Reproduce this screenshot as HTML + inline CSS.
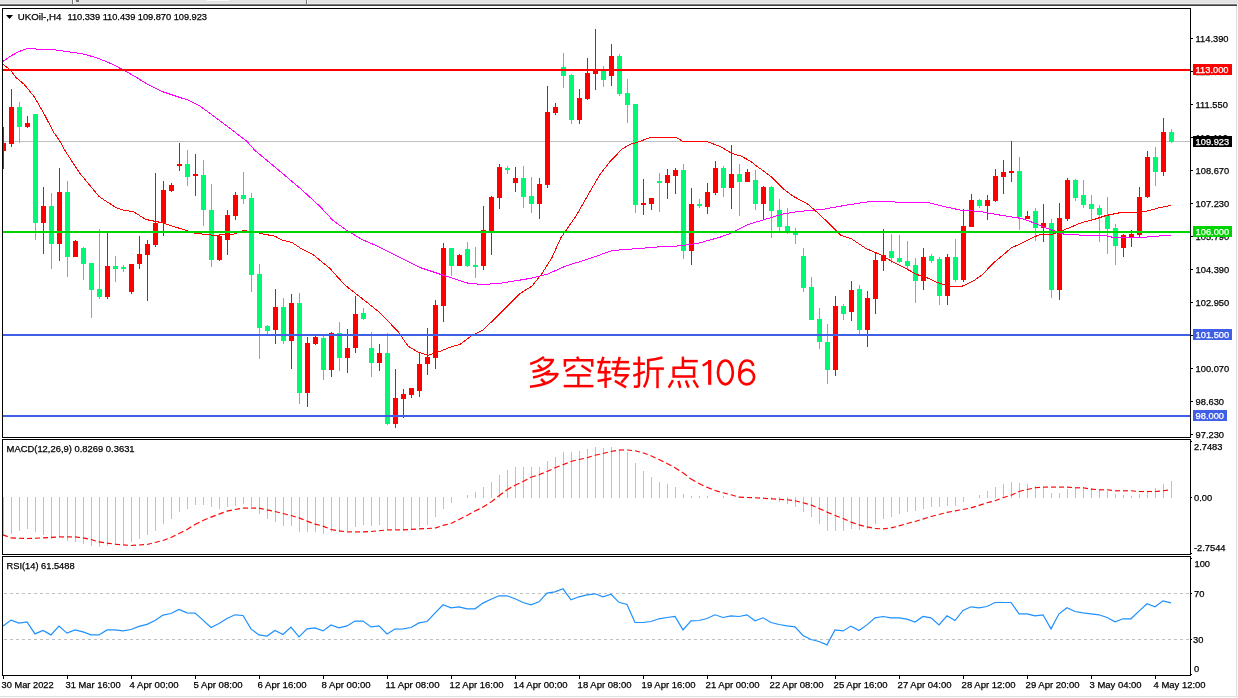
<!DOCTYPE html><html><head><meta charset="utf-8"><title>UKOil H4</title><style>
html,body{margin:0;padding:0;background:#fff}body{width:1238px;height:698px;overflow:hidden;position:relative}
svg{position:absolute;left:0;top:0;display:block}
text{font-family:"Liberation Sans",sans-serif;font-size:9.3px;fill:#000;stroke:#000;stroke-width:.25px}.w{stroke:#fff}
.w{fill:#fff}.cj path{fill:none;stroke:#ff0000;stroke-width:2.5;stroke-linejoin:round}.cj path.m{stroke-linejoin:miter}
</style></head><body>
<svg width="1238" height="698" viewBox="0 0 1238 698">
<rect width="1238" height="698" fill="#fff"/>
<g shape-rendering="crispEdges">
<rect x="0" y="0" width="1238" height="4" fill="#e4e4e4"/>
<rect x="0" y="3" width="1238" height="1" fill="#ececec"/><rect x="0" y="4" width="1237" height="1" fill="#7c7c7c"/>
<rect x="0" y="5" width="1237" height="1" fill="#404040"/>
<rect x="72" y="0" width="1" height="4" fill="#747474"/><rect x="73" y="0" width="1" height="4" fill="#f6f6f6"/>
<rect x="306" y="0" width="1" height="4" fill="#747474"/><rect x="307" y="0" width="1" height="4" fill="#f6f6f6"/>
<rect x="76" y="0" width="3" height="2" fill="#747474"/>
<rect x="207" y="0" width="22" height="1" fill="#fafafa"/>
<rect x="1236" y="6" width="1" height="692" fill="#dedede"/><rect x="1237" y="4" width="1" height="694" fill="#fbfbfb"/>
<rect x="0" y="696" width="1238" height="1" fill="#e2e2e2"/><rect x="0" y="697" width="1238" height="1" fill="#fbfbfb"/>
</g>
<g shape-rendering="crispEdges">
<rect x="3" y="141" width="1187" height="1" fill="#c0c0c0"/>
<rect x="3" y="127" width="1" height="42" fill="#ff0000"/>
<rect x="3" y="143" width="3" height="8" fill="#ff0000"/>
<rect x="11" y="89" width="1" height="58" fill="#ff0000"/>
<rect x="9" y="107" width="5" height="37" fill="#ff0000"/>
<rect x="19" y="102" width="1" height="41" fill="#00f876"/>
<rect x="17" y="107" width="5" height="20" fill="#00f876"/>
<rect x="27" y="116" width="1" height="12" fill="#ff0000"/>
<rect x="25" y="123" width="5" height="4" fill="#ff0000"/>
<rect x="35" y="114" width="1" height="126" fill="#00f876"/>
<rect x="33" y="114" width="5" height="109" fill="#00f876"/>
<rect x="43" y="187" width="1" height="67" fill="#ff0000"/>
<rect x="41" y="206" width="5" height="17" fill="#ff0000"/>
<rect x="51" y="193" width="1" height="76" fill="#00f876"/>
<rect x="49" y="206" width="5" height="38" fill="#00f876"/>
<rect x="59" y="168" width="1" height="93" fill="#ff0000"/>
<rect x="57" y="192" width="5" height="52" fill="#ff0000"/>
<rect x="67" y="181" width="1" height="96" fill="#00f876"/>
<rect x="65" y="192" width="5" height="65" fill="#00f876"/>
<rect x="75" y="240" width="1" height="17" fill="#ff0000"/>
<rect x="73" y="241" width="5" height="16" fill="#ff0000"/>
<rect x="83" y="247" width="1" height="33" fill="#00f876"/>
<rect x="81" y="248" width="5" height="16" fill="#00f876"/>
<rect x="91" y="263" width="1" height="55" fill="#00f876"/>
<rect x="89" y="263" width="5" height="27" fill="#00f876"/>
<rect x="99" y="229" width="1" height="70" fill="#00f876"/>
<rect x="97" y="289" width="5" height="8" fill="#00f876"/>
<rect x="107" y="233" width="1" height="66" fill="#ff0000"/>
<rect x="105" y="266" width="5" height="31" fill="#ff0000"/>
<rect x="115" y="256" width="1" height="26" fill="#00f876"/>
<rect x="113" y="266" width="5" height="3" fill="#00f876"/>
<rect x="123" y="265" width="1" height="7" fill="#00f876"/>
<rect x="121" y="267" width="5" height="2" fill="#00f876"/>
<rect x="131" y="264" width="1" height="30" fill="#ff0000"/>
<rect x="129" y="264" width="5" height="28" fill="#ff0000"/>
<rect x="139" y="236" width="1" height="33" fill="#ff0000"/>
<rect x="137" y="254" width="5" height="10" fill="#ff0000"/>
<rect x="147" y="240" width="1" height="61" fill="#ff0000"/>
<rect x="145" y="244" width="5" height="11" fill="#ff0000"/>
<rect x="155" y="173" width="1" height="74" fill="#ff0000"/>
<rect x="153" y="223" width="5" height="22" fill="#ff0000"/>
<rect x="163" y="181" width="1" height="55" fill="#ff0000"/>
<rect x="161" y="190" width="5" height="33" fill="#ff0000"/>
<rect x="171" y="183" width="1" height="9" fill="#ff0000"/>
<rect x="169" y="185" width="5" height="6" fill="#ff0000"/>
<rect x="179" y="143" width="1" height="28" fill="#ff0000"/>
<rect x="177" y="164" width="5" height="2" fill="#ff0000"/>
<rect x="187" y="150" width="1" height="36" fill="#00f876"/>
<rect x="185" y="164" width="5" height="13" fill="#00f876"/>
<rect x="195" y="154" width="1" height="42" fill="#ff0000"/>
<rect x="193" y="174" width="5" height="2" fill="#ff0000"/>
<rect x="203" y="160" width="1" height="66" fill="#00f876"/>
<rect x="201" y="175" width="5" height="35" fill="#00f876"/>
<rect x="211" y="184" width="1" height="83" fill="#00f876"/>
<rect x="209" y="210" width="5" height="50" fill="#00f876"/>
<rect x="219" y="235" width="1" height="26" fill="#ff0000"/>
<rect x="217" y="236" width="5" height="24" fill="#ff0000"/>
<rect x="227" y="210" width="1" height="45" fill="#ff0000"/>
<rect x="225" y="215" width="5" height="25" fill="#ff0000"/>
<rect x="235" y="192" width="1" height="28" fill="#ff0000"/>
<rect x="233" y="195" width="5" height="21" fill="#ff0000"/>
<rect x="243" y="172" width="1" height="32" fill="#00f876"/>
<rect x="241" y="195" width="5" height="4" fill="#00f876"/>
<rect x="251" y="193" width="1" height="99" fill="#00f876"/>
<rect x="249" y="198" width="5" height="77" fill="#00f876"/>
<rect x="259" y="264" width="1" height="95" fill="#00f876"/>
<rect x="257" y="274" width="5" height="54" fill="#00f876"/>
<rect x="267" y="325" width="1" height="9" fill="#00f876"/>
<rect x="265" y="326" width="5" height="5" fill="#00f876"/>
<rect x="275" y="289" width="1" height="55" fill="#ff0000"/>
<rect x="273" y="307" width="5" height="23" fill="#ff0000"/>
<rect x="283" y="298" width="1" height="46" fill="#00f876"/>
<rect x="281" y="307" width="5" height="34" fill="#00f876"/>
<rect x="291" y="294" width="1" height="75" fill="#ff0000"/>
<rect x="289" y="303" width="5" height="38" fill="#ff0000"/>
<rect x="299" y="293" width="1" height="111" fill="#00f876"/>
<rect x="297" y="303" width="5" height="90" fill="#00f876"/>
<rect x="307" y="337" width="1" height="70" fill="#ff0000"/>
<rect x="305" y="343" width="5" height="50" fill="#ff0000"/>
<rect x="315" y="335" width="1" height="10" fill="#ff0000"/>
<rect x="313" y="337" width="5" height="7" fill="#ff0000"/>
<rect x="323" y="336" width="1" height="44" fill="#00f876"/>
<rect x="321" y="338" width="5" height="32" fill="#00f876"/>
<rect x="331" y="332" width="1" height="45" fill="#ff0000"/>
<rect x="329" y="333" width="5" height="37" fill="#ff0000"/>
<rect x="339" y="322" width="1" height="49" fill="#00f876"/>
<rect x="337" y="333" width="5" height="25" fill="#00f876"/>
<rect x="347" y="329" width="1" height="44" fill="#ff0000"/>
<rect x="345" y="348" width="5" height="10" fill="#ff0000"/>
<rect x="355" y="296" width="1" height="57" fill="#ff0000"/>
<rect x="353" y="314" width="5" height="34" fill="#ff0000"/>
<rect x="363" y="308" width="1" height="12" fill="#00f876"/>
<rect x="361" y="313" width="5" height="6" fill="#00f876"/>
<rect x="371" y="332" width="1" height="45" fill="#00f876"/>
<rect x="369" y="348" width="5" height="15" fill="#00f876"/>
<rect x="379" y="344" width="1" height="27" fill="#ff0000"/>
<rect x="377" y="353" width="5" height="10" fill="#ff0000"/>
<rect x="387" y="333" width="1" height="92" fill="#00f876"/>
<rect x="385" y="353" width="5" height="71" fill="#00f876"/>
<rect x="395" y="369" width="1" height="59" fill="#ff0000"/>
<rect x="393" y="398" width="5" height="26" fill="#ff0000"/>
<rect x="403" y="389" width="1" height="29" fill="#ff0000"/>
<rect x="401" y="394" width="5" height="5" fill="#ff0000"/>
<rect x="411" y="388" width="1" height="10" fill="#ff0000"/>
<rect x="409" y="388" width="5" height="7" fill="#ff0000"/>
<rect x="419" y="353" width="1" height="44" fill="#ff0000"/>
<rect x="417" y="364" width="5" height="27" fill="#ff0000"/>
<rect x="427" y="328" width="1" height="47" fill="#ff0000"/>
<rect x="425" y="357" width="5" height="7" fill="#ff0000"/>
<rect x="435" y="300" width="1" height="69" fill="#ff0000"/>
<rect x="433" y="305" width="5" height="53" fill="#ff0000"/>
<rect x="443" y="243" width="1" height="79" fill="#ff0000"/>
<rect x="441" y="248" width="5" height="58" fill="#ff0000"/>
<rect x="451" y="248" width="1" height="28" fill="#00f876"/>
<rect x="449" y="248" width="5" height="18" fill="#00f876"/>
<rect x="459" y="254" width="1" height="12" fill="#ff0000"/>
<rect x="457" y="255" width="5" height="11" fill="#ff0000"/>
<rect x="467" y="242" width="1" height="25" fill="#00f876"/>
<rect x="465" y="249" width="5" height="17" fill="#00f876"/>
<rect x="475" y="247" width="1" height="31" fill="#00f876"/>
<rect x="473" y="265" width="5" height="2" fill="#00f876"/>
<rect x="483" y="206" width="1" height="64" fill="#ff0000"/>
<rect x="481" y="230" width="5" height="36" fill="#ff0000"/>
<rect x="491" y="196" width="1" height="59" fill="#ff0000"/>
<rect x="489" y="197" width="5" height="34" fill="#ff0000"/>
<rect x="499" y="164" width="1" height="45" fill="#ff0000"/>
<rect x="497" y="167" width="5" height="31" fill="#ff0000"/>
<rect x="507" y="166" width="1" height="8" fill="#00f876"/>
<rect x="505" y="168" width="5" height="2" fill="#00f876"/>
<rect x="515" y="167" width="1" height="25" fill="#ff0000"/>
<rect x="513" y="178" width="5" height="5" fill="#ff0000"/>
<rect x="523" y="166" width="1" height="42" fill="#00f876"/>
<rect x="521" y="178" width="5" height="19" fill="#00f876"/>
<rect x="531" y="177" width="1" height="36" fill="#00f876"/>
<rect x="529" y="196" width="5" height="8" fill="#00f876"/>
<rect x="539" y="178" width="1" height="41" fill="#ff0000"/>
<rect x="537" y="184" width="5" height="20" fill="#ff0000"/>
<rect x="547" y="86" width="1" height="102" fill="#ff0000"/>
<rect x="545" y="112" width="5" height="73" fill="#ff0000"/>
<rect x="555" y="103" width="1" height="12" fill="#ff0000"/>
<rect x="553" y="107" width="5" height="6" fill="#ff0000"/>
<rect x="563" y="53" width="1" height="35" fill="#00f876"/>
<rect x="561" y="67" width="5" height="9" fill="#00f876"/>
<rect x="571" y="74" width="1" height="50" fill="#00f876"/>
<rect x="569" y="75" width="5" height="45" fill="#00f876"/>
<rect x="579" y="89" width="1" height="35" fill="#ff0000"/>
<rect x="577" y="98" width="5" height="22" fill="#ff0000"/>
<rect x="587" y="58" width="1" height="42" fill="#ff0000"/>
<rect x="585" y="73" width="5" height="26" fill="#ff0000"/>
<rect x="595" y="29" width="1" height="61" fill="#ff0000"/>
<rect x="593" y="70" width="5" height="4" fill="#ff0000"/>
<rect x="603" y="66" width="1" height="21" fill="#00f876"/>
<rect x="601" y="70" width="5" height="10" fill="#00f876"/>
<rect x="611" y="44" width="1" height="42" fill="#ff0000"/>
<rect x="609" y="56" width="5" height="20" fill="#ff0000"/>
<rect x="619" y="54" width="1" height="42" fill="#00f876"/>
<rect x="617" y="56" width="5" height="38" fill="#00f876"/>
<rect x="627" y="79" width="1" height="44" fill="#00f876"/>
<rect x="625" y="93" width="5" height="12" fill="#00f876"/>
<rect x="635" y="104" width="1" height="109" fill="#00f876"/>
<rect x="633" y="104" width="5" height="101" fill="#00f876"/>
<rect x="643" y="179" width="1" height="36" fill="#ff0000"/>
<rect x="641" y="203" width="5" height="2" fill="#ff0000"/>
<rect x="651" y="198" width="1" height="12" fill="#ff0000"/>
<rect x="649" y="198" width="5" height="6" fill="#ff0000"/>
<rect x="659" y="173" width="1" height="39" fill="#00f876"/>
<rect x="657" y="181" width="5" height="2" fill="#00f876"/>
<rect x="667" y="169" width="1" height="30" fill="#ff0000"/>
<rect x="665" y="175" width="5" height="8" fill="#ff0000"/>
<rect x="675" y="168" width="1" height="26" fill="#ff0000"/>
<rect x="673" y="170" width="5" height="6" fill="#ff0000"/>
<rect x="683" y="164" width="1" height="95" fill="#00f876"/>
<rect x="681" y="170" width="5" height="81" fill="#00f876"/>
<rect x="691" y="188" width="1" height="77" fill="#ff0000"/>
<rect x="689" y="204" width="5" height="47" fill="#ff0000"/>
<rect x="699" y="199" width="1" height="9" fill="#00f876"/>
<rect x="697" y="204" width="5" height="2" fill="#00f876"/>
<rect x="707" y="183" width="1" height="31" fill="#ff0000"/>
<rect x="705" y="192" width="5" height="15" fill="#ff0000"/>
<rect x="715" y="161" width="1" height="34" fill="#ff0000"/>
<rect x="713" y="168" width="5" height="25" fill="#ff0000"/>
<rect x="723" y="166" width="1" height="31" fill="#00f876"/>
<rect x="721" y="168" width="5" height="20" fill="#00f876"/>
<rect x="731" y="145" width="1" height="64" fill="#ff0000"/>
<rect x="729" y="174" width="5" height="14" fill="#ff0000"/>
<rect x="739" y="164" width="1" height="52" fill="#00f876"/>
<rect x="737" y="174" width="5" height="8" fill="#00f876"/>
<rect x="747" y="169" width="1" height="13" fill="#ff0000"/>
<rect x="745" y="172" width="5" height="10" fill="#ff0000"/>
<rect x="755" y="170" width="1" height="40" fill="#00f876"/>
<rect x="753" y="180" width="5" height="24" fill="#00f876"/>
<rect x="763" y="186" width="1" height="34" fill="#ff0000"/>
<rect x="761" y="187" width="5" height="17" fill="#ff0000"/>
<rect x="771" y="186" width="1" height="52" fill="#00f876"/>
<rect x="769" y="187" width="5" height="24" fill="#00f876"/>
<rect x="779" y="199" width="1" height="32" fill="#00f876"/>
<rect x="777" y="210" width="5" height="17" fill="#00f876"/>
<rect x="787" y="208" width="1" height="26" fill="#00f876"/>
<rect x="785" y="226" width="5" height="5" fill="#00f876"/>
<rect x="795" y="228" width="1" height="16" fill="#00f876"/>
<rect x="793" y="233" width="5" height="2" fill="#00f876"/>
<rect x="803" y="248" width="1" height="44" fill="#00f876"/>
<rect x="801" y="256" width="5" height="32" fill="#00f876"/>
<rect x="811" y="277" width="1" height="43" fill="#00f876"/>
<rect x="809" y="287" width="5" height="33" fill="#00f876"/>
<rect x="819" y="308" width="1" height="41" fill="#00f876"/>
<rect x="817" y="319" width="5" height="23" fill="#00f876"/>
<rect x="827" y="324" width="1" height="60" fill="#00f876"/>
<rect x="825" y="342" width="5" height="28" fill="#00f876"/>
<rect x="835" y="296" width="1" height="80" fill="#ff0000"/>
<rect x="833" y="306" width="5" height="64" fill="#ff0000"/>
<rect x="843" y="304" width="1" height="16" fill="#00f876"/>
<rect x="841" y="306" width="5" height="8" fill="#00f876"/>
<rect x="851" y="281" width="1" height="40" fill="#ff0000"/>
<rect x="849" y="290" width="5" height="22" fill="#ff0000"/>
<rect x="859" y="285" width="1" height="49" fill="#00f876"/>
<rect x="857" y="289" width="5" height="41" fill="#00f876"/>
<rect x="867" y="291" width="1" height="56" fill="#ff0000"/>
<rect x="865" y="298" width="5" height="32" fill="#ff0000"/>
<rect x="875" y="253" width="1" height="61" fill="#ff0000"/>
<rect x="873" y="260" width="5" height="39" fill="#ff0000"/>
<rect x="883" y="229" width="1" height="42" fill="#ff0000"/>
<rect x="881" y="255" width="5" height="6" fill="#ff0000"/>
<rect x="891" y="234" width="1" height="29" fill="#00f876"/>
<rect x="889" y="251" width="5" height="7" fill="#00f876"/>
<rect x="899" y="235" width="1" height="28" fill="#00f876"/>
<rect x="897" y="258" width="5" height="4" fill="#00f876"/>
<rect x="907" y="241" width="1" height="29" fill="#00f876"/>
<rect x="905" y="261" width="5" height="5" fill="#00f876"/>
<rect x="915" y="258" width="1" height="45" fill="#00f876"/>
<rect x="913" y="265" width="5" height="16" fill="#00f876"/>
<rect x="923" y="248" width="1" height="42" fill="#ff0000"/>
<rect x="921" y="257" width="5" height="24" fill="#ff0000"/>
<rect x="931" y="254" width="1" height="9" fill="#00f876"/>
<rect x="929" y="256" width="5" height="5" fill="#00f876"/>
<rect x="939" y="257" width="1" height="48" fill="#00f876"/>
<rect x="937" y="259" width="5" height="37" fill="#00f876"/>
<rect x="947" y="254" width="1" height="51" fill="#ff0000"/>
<rect x="945" y="257" width="5" height="39" fill="#ff0000"/>
<rect x="955" y="239" width="1" height="43" fill="#00f876"/>
<rect x="953" y="257" width="5" height="23" fill="#00f876"/>
<rect x="963" y="209" width="1" height="73" fill="#ff0000"/>
<rect x="961" y="226" width="5" height="54" fill="#ff0000"/>
<rect x="971" y="194" width="1" height="33" fill="#ff0000"/>
<rect x="969" y="200" width="5" height="27" fill="#ff0000"/>
<rect x="979" y="199" width="1" height="9" fill="#00f876"/>
<rect x="977" y="200" width="5" height="6" fill="#00f876"/>
<rect x="987" y="195" width="1" height="25" fill="#ff0000"/>
<rect x="985" y="200" width="5" height="6" fill="#ff0000"/>
<rect x="995" y="169" width="1" height="33" fill="#ff0000"/>
<rect x="993" y="176" width="5" height="25" fill="#ff0000"/>
<rect x="1003" y="160" width="1" height="34" fill="#ff0000"/>
<rect x="1001" y="172" width="5" height="5" fill="#ff0000"/>
<rect x="1011" y="141" width="1" height="41" fill="#ff0000"/>
<rect x="1009" y="171" width="5" height="2" fill="#ff0000"/>
<rect x="1019" y="157" width="1" height="73" fill="#00f876"/>
<rect x="1017" y="171" width="5" height="46" fill="#00f876"/>
<rect x="1027" y="211" width="1" height="8" fill="#ff0000"/>
<rect x="1025" y="216" width="5" height="3" fill="#ff0000"/>
<rect x="1035" y="208" width="1" height="33" fill="#00f876"/>
<rect x="1033" y="211" width="5" height="17" fill="#00f876"/>
<rect x="1043" y="204" width="1" height="38" fill="#ff0000"/>
<rect x="1041" y="223" width="5" height="5" fill="#ff0000"/>
<rect x="1051" y="219" width="1" height="79" fill="#00f876"/>
<rect x="1049" y="223" width="5" height="67" fill="#00f876"/>
<rect x="1059" y="203" width="1" height="97" fill="#ff0000"/>
<rect x="1057" y="218" width="5" height="72" fill="#ff0000"/>
<rect x="1067" y="178" width="1" height="43" fill="#ff0000"/>
<rect x="1065" y="180" width="5" height="39" fill="#ff0000"/>
<rect x="1075" y="179" width="1" height="22" fill="#00f876"/>
<rect x="1073" y="180" width="5" height="18" fill="#00f876"/>
<rect x="1083" y="180" width="1" height="28" fill="#00f876"/>
<rect x="1081" y="195" width="5" height="10" fill="#00f876"/>
<rect x="1091" y="195" width="1" height="25" fill="#00f876"/>
<rect x="1089" y="204" width="5" height="5" fill="#00f876"/>
<rect x="1099" y="205" width="1" height="37" fill="#00f876"/>
<rect x="1097" y="208" width="5" height="7" fill="#00f876"/>
<rect x="1107" y="197" width="1" height="57" fill="#00f876"/>
<rect x="1105" y="215" width="5" height="14" fill="#00f876"/>
<rect x="1115" y="224" width="1" height="41" fill="#00f876"/>
<rect x="1113" y="228" width="5" height="18" fill="#00f876"/>
<rect x="1123" y="234" width="1" height="23" fill="#ff0000"/>
<rect x="1121" y="235" width="5" height="13" fill="#ff0000"/>
<rect x="1131" y="230" width="1" height="17" fill="#ff0000"/>
<rect x="1129" y="234" width="5" height="3" fill="#ff0000"/>
<rect x="1139" y="187" width="1" height="50" fill="#ff0000"/>
<rect x="1137" y="197" width="5" height="38" fill="#ff0000"/>
<rect x="1147" y="151" width="1" height="47" fill="#ff0000"/>
<rect x="1145" y="157" width="5" height="40" fill="#ff0000"/>
<rect x="1155" y="147" width="1" height="39" fill="#00f876"/>
<rect x="1153" y="157" width="5" height="15" fill="#00f876"/>
<rect x="1163" y="118" width="1" height="58" fill="#ff0000"/>
<rect x="1161" y="132" width="5" height="40" fill="#ff0000"/>
<rect x="1171" y="129" width="1" height="14" fill="#00f876"/>
<rect x="1169" y="132" width="5" height="10" fill="#00f876"/>
</g>
<polyline points="3,61.5 10,56.5 18,52.0 27,48.5 32,48.5 40,49.5 56,50.0 70,52.0 85,54.3 100,59.0 113,64.5 122,69.3 135,76.5 146,83.4 162,91.5 180,97.5 188,100.1 200,106.1 206,110.5 225,124.5 247,141.5 255,150.5 285,175.5 300,188.2 320,206.5 333,220.5 347,230.5 362,239.5 378,246.3 400,257.5 420,267.5 444,275.5 469,283.5 484,284.5 503,282.9 532,278.1 548,273.9 566,265.9 590,258.5 612,250.5 640,248.4 664,246.4 681,245.9 700,242.8 720,237.2 729,234.0 749,224.2 783,214.0 798,211.5 822,209.5 846,205.2 870,201.5 890,201.5 900,202.5 928,202.5 944,206.5 960,210.0 980,211.5 1000,215.1 1021,218.4 1033,222.5 1050,229.5 1065,234.5 1092,235.5 1106,235.9 1114,237.5 1131,237.5 1146,237.1 1160,235.9 1171,235.9" fill="none" stroke="#ff00ff" stroke-width="1" shape-rendering="crispEdges"/>
<polyline points="3,64.5 10,69.5 16,77.5 24,84.2 34,96.4 45,115.5 53,131.2 60,141.5 66,152.2 80,173.5 85,179.5 99,196.5 108,202.5 116,207.5 124,210.5 133,211.5 146,219.5 161,222.5 180,228.5 195,233.3 207,234.5 214,235.5 224,234.5 234,234.0 243,230.5 255,232.1 263,234.0 275,236.2 282,240.1 292,242.5 300,247.9 313,254.5 330,268.5 344,284.1 348,287.5 362,298.5 379,311.9 398,331.5 408,346.0 418,352.1 428,355.2 438,352.1 452,346.5 460,344.5 472,335.5 483,330.2 503,310.5 520,293.5 532,286.0 542,273.5 552,257.5 561,237.5 566,230.5 576,216.0 590,191.5 600,174.5 610,161.5 622,149.2 630,144.2 637,142.5 650,137.5 676,137.5 683,141.5 708,142.0 720,146.3 732,153.5 741,156.1 750,160.9 757,166.3 771,176.5 783,188.5 793,196.2 807,203.5 814,209.5 827,221.5 841,235.5 851,238.5 866,248.5 880,254.5 893,262.0 905,268.1 917,274.5 929,278.5 938,282.8 950,286.3 962,286.3 974,280.5 983,274.2 990,266.5 994,262.5 1004,254.2 1011,248.1 1021,243.5 1031,238.3 1040,234.5 1052,234.5 1065,229.5 1082,222.5 1094,219.5 1106,215.5 1121,212.5 1140,212.5 1150,210.3 1160,207.5 1167,206.2 1171,205.5" fill="none" stroke="#ff0000" stroke-width="1" shape-rendering="crispEdges"/>
<g shape-rendering="crispEdges">
<rect x="3" y="69" width="1187" height="2" fill="#ff0000"/>
<rect x="3" y="231" width="1187" height="2" fill="#00d400"/>
<rect x="3" y="334" width="1187" height="2" fill="#3f5fe6"/>
<rect x="3" y="415" width="1187" height="2" fill="#3f5fe6"/>
</g>
<g shape-rendering="crispEdges">
<rect x="3" y="497" width="1" height="38" fill="#c0c0c0"/>
<rect x="11" y="497" width="1" height="37" fill="#c0c0c0"/>
<rect x="19" y="497" width="1" height="34" fill="#c0c0c0"/>
<rect x="27" y="497" width="1" height="32" fill="#c0c0c0"/>
<rect x="35" y="497" width="1" height="35" fill="#c0c0c0"/>
<rect x="43" y="497" width="1" height="38" fill="#c0c0c0"/>
<rect x="51" y="497" width="1" height="42" fill="#c0c0c0"/>
<rect x="59" y="497" width="1" height="40" fill="#c0c0c0"/>
<rect x="67" y="497" width="1" height="44" fill="#c0c0c0"/>
<rect x="75" y="497" width="1" height="45" fill="#c0c0c0"/>
<rect x="83" y="497" width="1" height="47" fill="#c0c0c0"/>
<rect x="91" y="497" width="1" height="49" fill="#c0c0c0"/>
<rect x="99" y="497" width="1" height="50" fill="#c0c0c0"/>
<rect x="107" y="497" width="1" height="49" fill="#c0c0c0"/>
<rect x="115" y="497" width="1" height="48" fill="#c0c0c0"/>
<rect x="123" y="497" width="1" height="47" fill="#c0c0c0"/>
<rect x="131" y="497" width="1" height="45" fill="#c0c0c0"/>
<rect x="139" y="497" width="1" height="42" fill="#c0c0c0"/>
<rect x="147" y="497" width="1" height="38" fill="#c0c0c0"/>
<rect x="155" y="497" width="1" height="34" fill="#c0c0c0"/>
<rect x="163" y="497" width="1" height="27" fill="#c0c0c0"/>
<rect x="171" y="497" width="1" height="22" fill="#c0c0c0"/>
<rect x="179" y="497" width="1" height="15" fill="#c0c0c0"/>
<rect x="187" y="497" width="1" height="12" fill="#c0c0c0"/>
<rect x="195" y="497" width="1" height="8" fill="#c0c0c0"/>
<rect x="203" y="497" width="1" height="8" fill="#c0c0c0"/>
<rect x="211" y="497" width="1" height="10" fill="#c0c0c0"/>
<rect x="219" y="497" width="1" height="12" fill="#c0c0c0"/>
<rect x="227" y="497" width="1" height="10" fill="#c0c0c0"/>
<rect x="235" y="497" width="1" height="9" fill="#c0c0c0"/>
<rect x="243" y="497" width="1" height="7" fill="#c0c0c0"/>
<rect x="251" y="497" width="1" height="10" fill="#c0c0c0"/>
<rect x="259" y="497" width="1" height="17" fill="#c0c0c0"/>
<rect x="267" y="497" width="1" height="22" fill="#c0c0c0"/>
<rect x="275" y="497" width="1" height="25" fill="#c0c0c0"/>
<rect x="283" y="497" width="1" height="29" fill="#c0c0c0"/>
<rect x="291" y="497" width="1" height="29" fill="#c0c0c0"/>
<rect x="299" y="497" width="1" height="35" fill="#c0c0c0"/>
<rect x="307" y="497" width="1" height="35" fill="#c0c0c0"/>
<rect x="315" y="497" width="1" height="35" fill="#c0c0c0"/>
<rect x="323" y="497" width="1" height="37" fill="#c0c0c0"/>
<rect x="331" y="497" width="1" height="35" fill="#c0c0c0"/>
<rect x="339" y="497" width="1" height="35" fill="#c0c0c0"/>
<rect x="347" y="497" width="1" height="34" fill="#c0c0c0"/>
<rect x="355" y="497" width="1" height="30" fill="#c0c0c0"/>
<rect x="363" y="497" width="1" height="28" fill="#c0c0c0"/>
<rect x="371" y="497" width="1" height="29" fill="#c0c0c0"/>
<rect x="379" y="497" width="1" height="28" fill="#c0c0c0"/>
<rect x="387" y="497" width="1" height="32" fill="#c0c0c0"/>
<rect x="395" y="497" width="1" height="33" fill="#c0c0c0"/>
<rect x="403" y="497" width="1" height="34" fill="#c0c0c0"/>
<rect x="411" y="497" width="1" height="32" fill="#c0c0c0"/>
<rect x="419" y="497" width="1" height="30" fill="#c0c0c0"/>
<rect x="427" y="497" width="1" height="28" fill="#c0c0c0"/>
<rect x="435" y="497" width="1" height="20" fill="#c0c0c0"/>
<rect x="443" y="497" width="1" height="12" fill="#c0c0c0"/>
<rect x="451" y="497" width="1" height="6" fill="#c0c0c0"/>
<rect x="467" y="495" width="1" height="3" fill="#c0c0c0"/>
<rect x="475" y="492" width="1" height="6" fill="#c0c0c0"/>
<rect x="483" y="487" width="1" height="11" fill="#c0c0c0"/>
<rect x="491" y="482" width="1" height="16" fill="#c0c0c0"/>
<rect x="499" y="475" width="1" height="23" fill="#c0c0c0"/>
<rect x="507" y="470" width="1" height="28" fill="#c0c0c0"/>
<rect x="515" y="467" width="1" height="31" fill="#c0c0c0"/>
<rect x="523" y="467" width="1" height="31" fill="#c0c0c0"/>
<rect x="531" y="467" width="1" height="31" fill="#c0c0c0"/>
<rect x="539" y="467" width="1" height="31" fill="#c0c0c0"/>
<rect x="547" y="461" width="1" height="37" fill="#c0c0c0"/>
<rect x="555" y="457" width="1" height="41" fill="#c0c0c0"/>
<rect x="563" y="452" width="1" height="46" fill="#c0c0c0"/>
<rect x="571" y="452" width="1" height="46" fill="#c0c0c0"/>
<rect x="579" y="451" width="1" height="47" fill="#c0c0c0"/>
<rect x="587" y="449" width="1" height="49" fill="#c0c0c0"/>
<rect x="595" y="447" width="1" height="51" fill="#c0c0c0"/>
<rect x="603" y="448" width="1" height="50" fill="#c0c0c0"/>
<rect x="611" y="447" width="1" height="51" fill="#c0c0c0"/>
<rect x="619" y="450" width="1" height="48" fill="#c0c0c0"/>
<rect x="627" y="452" width="1" height="46" fill="#c0c0c0"/>
<rect x="635" y="463" width="1" height="35" fill="#c0c0c0"/>
<rect x="643" y="471" width="1" height="27" fill="#c0c0c0"/>
<rect x="651" y="477" width="1" height="21" fill="#c0c0c0"/>
<rect x="659" y="482" width="1" height="16" fill="#c0c0c0"/>
<rect x="667" y="484" width="1" height="14" fill="#c0c0c0"/>
<rect x="675" y="487" width="1" height="11" fill="#c0c0c0"/>
<rect x="683" y="494" width="1" height="4" fill="#c0c0c0"/>
<rect x="691" y="496" width="1" height="2" fill="#c0c0c0"/>
<rect x="699" y="496" width="1" height="2" fill="#c0c0c0"/>
<rect x="707" y="496" width="1" height="2" fill="#c0c0c0"/>
<rect x="723" y="496" width="1" height="2" fill="#c0c0c0"/>
<rect x="763" y="497" width="1" height="1" fill="#c0c0c0"/>
<rect x="771" y="497" width="1" height="3" fill="#c0c0c0"/>
<rect x="779" y="497" width="1" height="5" fill="#c0c0c0"/>
<rect x="787" y="497" width="1" height="7" fill="#c0c0c0"/>
<rect x="795" y="497" width="1" height="10" fill="#c0c0c0"/>
<rect x="803" y="497" width="1" height="15" fill="#c0c0c0"/>
<rect x="811" y="497" width="1" height="20" fill="#c0c0c0"/>
<rect x="819" y="497" width="1" height="27" fill="#c0c0c0"/>
<rect x="827" y="497" width="1" height="34" fill="#c0c0c0"/>
<rect x="835" y="497" width="1" height="34" fill="#c0c0c0"/>
<rect x="843" y="497" width="1" height="34" fill="#c0c0c0"/>
<rect x="851" y="497" width="1" height="32" fill="#c0c0c0"/>
<rect x="859" y="497" width="1" height="33" fill="#c0c0c0"/>
<rect x="867" y="497" width="1" height="32" fill="#c0c0c0"/>
<rect x="875" y="497" width="1" height="27" fill="#c0c0c0"/>
<rect x="883" y="497" width="1" height="22" fill="#c0c0c0"/>
<rect x="891" y="497" width="1" height="20" fill="#c0c0c0"/>
<rect x="899" y="497" width="1" height="17" fill="#c0c0c0"/>
<rect x="907" y="497" width="1" height="15" fill="#c0c0c0"/>
<rect x="915" y="497" width="1" height="14" fill="#c0c0c0"/>
<rect x="923" y="497" width="1" height="12" fill="#c0c0c0"/>
<rect x="931" y="497" width="1" height="10" fill="#c0c0c0"/>
<rect x="939" y="497" width="1" height="10" fill="#c0c0c0"/>
<rect x="947" y="497" width="1" height="9" fill="#c0c0c0"/>
<rect x="955" y="497" width="1" height="9" fill="#c0c0c0"/>
<rect x="963" y="497" width="1" height="5" fill="#c0c0c0"/>
<rect x="979" y="495" width="1" height="3" fill="#c0c0c0"/>
<rect x="987" y="491" width="1" height="7" fill="#c0c0c0"/>
<rect x="995" y="487" width="1" height="11" fill="#c0c0c0"/>
<rect x="1003" y="484" width="1" height="14" fill="#c0c0c0"/>
<rect x="1011" y="482" width="1" height="16" fill="#c0c0c0"/>
<rect x="1019" y="483" width="1" height="15" fill="#c0c0c0"/>
<rect x="1027" y="484" width="1" height="14" fill="#c0c0c0"/>
<rect x="1035" y="486" width="1" height="12" fill="#c0c0c0"/>
<rect x="1043" y="487" width="1" height="11" fill="#c0c0c0"/>
<rect x="1051" y="493" width="1" height="5" fill="#c0c0c0"/>
<rect x="1059" y="493" width="1" height="5" fill="#c0c0c0"/>
<rect x="1067" y="489" width="1" height="9" fill="#c0c0c0"/>
<rect x="1075" y="487" width="1" height="11" fill="#c0c0c0"/>
<rect x="1083" y="487" width="1" height="11" fill="#c0c0c0"/>
<rect x="1091" y="488" width="1" height="10" fill="#c0c0c0"/>
<rect x="1099" y="490" width="1" height="8" fill="#c0c0c0"/>
<rect x="1107" y="491" width="1" height="7" fill="#c0c0c0"/>
<rect x="1115" y="494" width="1" height="4" fill="#c0c0c0"/>
<rect x="1123" y="495" width="1" height="3" fill="#c0c0c0"/>
<rect x="1131" y="496" width="1" height="2" fill="#c0c0c0"/>
<rect x="1139" y="494" width="1" height="4" fill="#c0c0c0"/>
<rect x="1147" y="491" width="1" height="7" fill="#c0c0c0"/>
<rect x="1155" y="488" width="1" height="10" fill="#c0c0c0"/>
<rect x="1163" y="484" width="1" height="14" fill="#c0c0c0"/>
<rect x="1171" y="481" width="1" height="17" fill="#c0c0c0"/>
</g>
<g stroke="#ff0000" stroke-width="1.15" stroke-dasharray="5 3" fill="none">
<line x1="3" y1="534.9" x2="11" y2="537.9"/>
<line x1="11" y1="537.9" x2="19" y2="538.3"/>
<line x1="19" y1="538.3" x2="27" y2="538.5"/>
<line x1="27" y1="538.5" x2="35" y2="538.2"/>
<line x1="35" y1="538.2" x2="43" y2="537.9"/>
<line x1="43" y1="537.9" x2="51" y2="537.4"/>
<line x1="51" y1="537.4" x2="59" y2="536.9"/>
<line x1="59" y1="536.9" x2="67" y2="536.9"/>
<line x1="67" y1="536.9" x2="75" y2="536.9"/>
<line x1="75" y1="536.9" x2="83" y2="537.9"/>
<line x1="83" y1="537.9" x2="91" y2="539.5"/>
<line x1="91" y1="539.5" x2="99" y2="541.9"/>
<line x1="99" y1="541.9" x2="107" y2="543.1"/>
<line x1="107" y1="543.1" x2="115" y2="544.2"/>
<line x1="115" y1="544.2" x2="123" y2="544.9"/>
<line x1="123" y1="544.9" x2="131" y2="545.5"/>
<line x1="131" y1="545.5" x2="139" y2="545.0"/>
<line x1="139" y1="545.0" x2="147" y2="544.5"/>
<line x1="147" y1="544.5" x2="155" y2="542.5"/>
<line x1="155" y1="542.5" x2="163" y2="540.5"/>
<line x1="163" y1="540.5" x2="171" y2="537.5"/>
<line x1="171" y1="537.5" x2="179" y2="533.5"/>
<line x1="179" y1="533.5" x2="187" y2="529.5"/>
<line x1="187" y1="529.5" x2="195" y2="524.5"/>
<line x1="195" y1="524.5" x2="203" y2="520.5"/>
<line x1="203" y1="520.5" x2="211" y2="517.1"/>
<line x1="211" y1="517.1" x2="219" y2="514.1"/>
<line x1="219" y1="514.1" x2="227" y2="511.1"/>
<line x1="227" y1="511.1" x2="235" y2="509.5"/>
<line x1="235" y1="509.5" x2="243" y2="508.1"/>
<line x1="243" y1="508.1" x2="251" y2="508.1"/>
<line x1="251" y1="508.1" x2="259" y2="508.1"/>
<line x1="259" y1="508.1" x2="267" y2="509.9"/>
<line x1="267" y1="509.9" x2="275" y2="511.5"/>
<line x1="275" y1="511.5" x2="283" y2="513.5"/>
<line x1="283" y1="513.5" x2="291" y2="515.5"/>
<line x1="291" y1="515.5" x2="299" y2="517.9"/>
<line x1="299" y1="517.9" x2="307" y2="521.1"/>
<line x1="307" y1="521.1" x2="315" y2="524.1"/>
<line x1="315" y1="524.1" x2="323" y2="526.1"/>
<line x1="323" y1="526.1" x2="331" y2="529.5"/>
<line x1="331" y1="529.5" x2="339" y2="530.9"/>
<line x1="339" y1="530.9" x2="347" y2="531.9"/>
<line x1="347" y1="531.9" x2="355" y2="531.9"/>
<line x1="355" y1="531.9" x2="363" y2="531.9"/>
<line x1="363" y1="531.9" x2="371" y2="531.5"/>
<line x1="371" y1="531.5" x2="379" y2="530.7"/>
<line x1="379" y1="530.7" x2="387" y2="529.9"/>
<line x1="387" y1="529.9" x2="395" y2="529.9"/>
<line x1="395" y1="529.9" x2="403" y2="529.9"/>
<line x1="403" y1="529.9" x2="411" y2="529.4"/>
<line x1="411" y1="529.4" x2="419" y2="528.9"/>
<line x1="419" y1="528.9" x2="427" y2="528.5"/>
<line x1="427" y1="528.5" x2="435" y2="528.1"/>
<line x1="435" y1="528.1" x2="443" y2="525.4"/>
<line x1="443" y1="525.4" x2="451" y2="523.4"/>
<line x1="451" y1="523.4" x2="459" y2="519.5"/>
<line x1="459" y1="519.5" x2="467" y2="515.4"/>
<line x1="467" y1="515.4" x2="475" y2="511.1"/>
<line x1="475" y1="511.1" x2="483" y2="507.1"/>
<line x1="483" y1="507.1" x2="491" y2="502.1"/>
<line x1="491" y1="502.1" x2="499" y2="495.8"/>
<line x1="499" y1="495.8" x2="507" y2="489.8"/>
<line x1="507" y1="489.8" x2="515" y2="485.3"/>
<line x1="515" y1="485.3" x2="523" y2="481.5"/>
<line x1="523" y1="481.5" x2="531" y2="477.3"/>
<line x1="531" y1="477.3" x2="539" y2="474.8"/>
<line x1="539" y1="474.8" x2="547" y2="471.5"/>
<line x1="547" y1="471.5" x2="555" y2="467.8"/>
<line x1="555" y1="467.8" x2="563" y2="464.8"/>
<line x1="563" y1="464.8" x2="571" y2="461.5"/>
<line x1="571" y1="461.5" x2="579" y2="459.5"/>
<line x1="579" y1="459.5" x2="587" y2="457.8"/>
<line x1="587" y1="457.8" x2="595" y2="455.3"/>
<line x1="595" y1="455.3" x2="603" y2="453.5"/>
<line x1="603" y1="453.5" x2="611" y2="451.5"/>
<line x1="611" y1="451.5" x2="619" y2="450.0"/>
<line x1="619" y1="450.0" x2="627" y2="450.0"/>
<line x1="627" y1="450.0" x2="635" y2="450.8"/>
<line x1="635" y1="450.8" x2="643" y2="452.8"/>
<line x1="643" y1="452.8" x2="651" y2="455.8"/>
<line x1="651" y1="455.8" x2="659" y2="459.5"/>
<line x1="659" y1="459.5" x2="667" y2="463.5"/>
<line x1="667" y1="463.5" x2="675" y2="467.8"/>
<line x1="675" y1="467.8" x2="683" y2="472.8"/>
<line x1="683" y1="472.8" x2="691" y2="479.1"/>
<line x1="691" y1="479.1" x2="699" y2="483.5"/>
<line x1="699" y1="483.5" x2="707" y2="487.3"/>
<line x1="707" y1="487.3" x2="715" y2="490.5"/>
<line x1="715" y1="490.5" x2="723" y2="492.8"/>
<line x1="723" y1="492.8" x2="731" y2="494.8"/>
<line x1="731" y1="494.8" x2="739" y2="497.1"/>
<line x1="739" y1="497.1" x2="747" y2="497.5"/>
<line x1="747" y1="497.5" x2="755" y2="497.8"/>
<line x1="755" y1="497.8" x2="763" y2="498.3"/>
<line x1="763" y1="498.3" x2="771" y2="498.8"/>
<line x1="771" y1="498.8" x2="779" y2="499.3"/>
<line x1="779" y1="499.3" x2="787" y2="499.8"/>
<line x1="787" y1="499.8" x2="795" y2="500.8"/>
<line x1="795" y1="500.8" x2="803" y2="502.8"/>
<line x1="803" y1="502.8" x2="811" y2="504.9"/>
<line x1="811" y1="504.9" x2="819" y2="508.4"/>
<line x1="819" y1="508.4" x2="827" y2="512.1"/>
<line x1="827" y1="512.1" x2="835" y2="515.5"/>
<line x1="835" y1="515.5" x2="843" y2="518.5"/>
<line x1="843" y1="518.5" x2="851" y2="522.1"/>
<line x1="851" y1="522.1" x2="859" y2="524.9"/>
<line x1="859" y1="524.9" x2="867" y2="526.9"/>
<line x1="867" y1="526.9" x2="875" y2="528.5"/>
<line x1="875" y1="528.5" x2="883" y2="528.9"/>
<line x1="883" y1="528.9" x2="891" y2="527.9"/>
<line x1="891" y1="527.9" x2="899" y2="525.9"/>
<line x1="899" y1="525.9" x2="907" y2="523.5"/>
<line x1="907" y1="523.5" x2="915" y2="521.5"/>
<line x1="915" y1="521.5" x2="923" y2="519.1"/>
<line x1="923" y1="519.1" x2="931" y2="516.5"/>
<line x1="931" y1="516.5" x2="939" y2="514.5"/>
<line x1="939" y1="514.5" x2="947" y2="512.4"/>
<line x1="947" y1="512.4" x2="955" y2="510.9"/>
<line x1="955" y1="510.9" x2="963" y2="509.5"/>
<line x1="963" y1="509.5" x2="971" y2="507.9"/>
<line x1="971" y1="507.9" x2="979" y2="505.4"/>
<line x1="979" y1="505.4" x2="987" y2="502.8"/>
<line x1="987" y1="502.8" x2="995" y2="500.8"/>
<line x1="995" y1="500.8" x2="1003" y2="497.8"/>
<line x1="1003" y1="497.8" x2="1011" y2="495.3"/>
<line x1="1011" y1="495.3" x2="1019" y2="491.5"/>
<line x1="1019" y1="491.5" x2="1027" y2="489.5"/>
<line x1="1027" y1="489.5" x2="1035" y2="487.8"/>
<line x1="1035" y1="487.8" x2="1043" y2="487.1"/>
<line x1="1043" y1="487.1" x2="1051" y2="487.1"/>
<line x1="1051" y1="487.1" x2="1059" y2="487.1"/>
<line x1="1059" y1="487.1" x2="1067" y2="487.1"/>
<line x1="1067" y1="487.1" x2="1075" y2="487.8"/>
<line x1="1075" y1="487.8" x2="1083" y2="487.8"/>
<line x1="1083" y1="487.8" x2="1091" y2="489.1"/>
<line x1="1091" y1="489.1" x2="1099" y2="489.8"/>
<line x1="1099" y1="489.8" x2="1107" y2="489.8"/>
<line x1="1107" y1="489.8" x2="1115" y2="490.8"/>
<line x1="1115" y1="490.8" x2="1123" y2="490.8"/>
<line x1="1123" y1="490.8" x2="1131" y2="490.8"/>
<line x1="1131" y1="490.8" x2="1139" y2="491.5"/>
<line x1="1139" y1="491.5" x2="1147" y2="491.5"/>
<line x1="1147" y1="491.5" x2="1155" y2="491.5"/>
<line x1="1155" y1="491.5" x2="1163" y2="490.8"/>
<line x1="1163" y1="490.8" x2="1171" y2="489.8"/>
</g>
<g shape-rendering="crispEdges" stroke="#c0c0c0" stroke-width="1" stroke-dasharray="3 3">
<line x1="4" y1="593.5" x2="1190" y2="593.5"/><line x1="4" y1="639.5" x2="1190" y2="639.5"/></g>
<polyline points="3,626.1 11,620.1 19,623.1 27,621.8 35,633.9 43,630.5 51,634.9 59,626.1 67,633.1 75,629.9 83,631.9 91,634.9 99,634.9 107,629.9 115,629.9 123,630.9 131,629.5 139,626.4 147,624.4 155,620.5 163,615.1 171,613.5 179,609.5 187,612.8 195,613.1 203,620.1 211,627.5 219,623.5 227,618.5 235,614.8 243,615.5 251,628.9 259,634.9 267,636.1 275,630.5 283,634.5 291,627.1 299,636.9 307,628.9 315,627.9 323,630.9 331,624.9 339,627.9 347,625.9 355,621.1 363,621.1 371,626.9 379,625.9 387,633.9 395,629.1 403,628.9 411,627.5 419,622.9 427,621.5 435,613.1 443,604.8 451,607.8 459,606.8 467,608.8 475,608.8 483,603.1 491,599.3 499,595.8 507,595.8 515,598.8 523,602.5 531,604.8 539,601.8 547,593.1 555,591.8 563,588.8 571,599.8 579,596.8 587,594.8 595,593.8 603,596.8 611,594.3 619,602.3 627,604.5 635,622.5 643,622.5 651,621.5 659,618.8 667,617.5 675,616.5 683,629.9 691,620.8 699,620.5 707,618.5 715,614.8 723,617.5 731,615.8 739,616.5 747,614.8 755,620.8 763,617.8 771,622.5 779,624.5 787,625.9 795,626.9 803,635.5 811,639.5 819,641.5 827,644.9 835,629.9 843,630.9 851,626.1 859,630.5 867,624.9 875,617.8 883,616.5 891,617.8 899,617.8 907,619.1 915,622.1 923,616.5 931,617.8 939,624.9 947,615.8 955,620.5 963,610.5 971,606.8 979,607.8 987,606.5 995,602.5 1003,602.5 1011,602.5 1019,613.8 1027,613.8 1035,615.8 1043,614.8 1051,628.9 1059,613.8 1067,607.8 1075,611.5 1083,612.8 1091,613.8 1099,614.8 1107,617.5 1115,621.8 1123,618.8 1131,618.8 1139,611.1 1147,603.8 1155,606.8 1163,600.8 1171,602.8" fill="none" stroke="#1e90ff" stroke-width="1.2"/>
<g shape-rendering="crispEdges" fill="#000">
<rect x="2" y="8" width="1" height="668"/>
<rect x="1190" y="8" width="1" height="668"/>
<rect x="2" y="8" width="1189" height="1"/>
<rect x="2" y="437" width="1189" height="1"/>
<rect x="2" y="439" width="1189" height="1"/>
<rect x="2" y="554" width="1189" height="1"/>
<rect x="2" y="556" width="1189" height="1"/>
<rect x="2" y="675" width="1189" height="1"/>
<rect x="2" y="438" width="1189" height="1" fill="#fff"/><rect x="2" y="555" width="1189" height="1" fill="#fff"/>
<rect x="1191" y="38" width="2" height="1"/>
<rect x="1191" y="71" width="2" height="1"/>
<rect x="1191" y="104" width="2" height="1"/>
<rect x="1191" y="137" width="2" height="1"/>
<rect x="1191" y="170" width="2" height="1"/>
<rect x="1191" y="203" width="2" height="1"/>
<rect x="1191" y="236" width="2" height="1"/>
<rect x="1191" y="269" width="2" height="1"/>
<rect x="1191" y="302" width="2" height="1"/>
<rect x="1191" y="335" width="2" height="1"/>
<rect x="1191" y="368" width="2" height="1"/>
<rect x="1191" y="401" width="2" height="1"/>
<rect x="1191" y="434" width="2" height="1"/>
<rect x="1191" y="441" width="1" height="1"/>
<rect x="1191" y="497" width="1" height="1"/>
<rect x="1191" y="553" width="1" height="1"/>
<rect x="1191" y="558" width="1" height="1"/>
<rect x="1191" y="593" width="1" height="1"/>
<rect x="1191" y="639" width="1" height="1"/>
<rect x="1191" y="674" width="1" height="1"/>
<rect x="3" y="676" width="1" height="3"/>
<rect x="67" y="676" width="1" height="3"/>
<rect x="131" y="676" width="1" height="3"/>
<rect x="195" y="676" width="1" height="3"/>
<rect x="259" y="676" width="1" height="3"/>
<rect x="323" y="676" width="1" height="3"/>
<rect x="387" y="676" width="1" height="3"/>
<rect x="451" y="676" width="1" height="3"/>
<rect x="515" y="676" width="1" height="3"/>
<rect x="579" y="676" width="1" height="3"/>
<rect x="643" y="676" width="1" height="3"/>
<rect x="707" y="676" width="1" height="3"/>
<rect x="771" y="676" width="1" height="3"/>
<rect x="835" y="676" width="1" height="3"/>
<rect x="899" y="676" width="1" height="3"/>
<rect x="963" y="676" width="1" height="3"/>
<rect x="1027" y="676" width="1" height="3"/>
<rect x="1091" y="676" width="1" height="3"/>
<rect x="1155" y="676" width="1" height="3"/>
</g>
<defs><filter id="g" x="0" y="0" width="1238" height="698" filterUnits="userSpaceOnUse"><feOffset dx="0" dy="0"/></filter></defs><g filter="url(#g)">
<text x="1195.6" y="42">114.390</text>
<text x="1195.6" y="75">112.950</text>
<text x="1195.6" y="108">111.550</text>
<text x="1195.6" y="141">110.110</text>
<text x="1195.6" y="174">108.670</text>
<text x="1195.6" y="207">107.230</text>
<text x="1195.6" y="240">105.790</text>
<text x="1195.6" y="273">104.390</text>
<text x="1195.6" y="306">102.950</text>
<text x="1195.6" y="339">101.510</text>
<text x="1195.6" y="372">100.070</text>
<text x="1195.6" y="405">98.630</text>
<text x="1195.6" y="438">97.230</text>
<rect x="1193" y="64" width="39" height="11" fill="#ff0000" shape-rendering="crispEdges"/><text class="w" x="1195.6" y="73">113.000</text>
<rect x="1193" y="136" width="39" height="11" fill="#000000" shape-rendering="crispEdges"/><text class="w" x="1195.6" y="145">109.923</text>
<rect x="1193" y="226" width="39" height="11" fill="#00d400" shape-rendering="crispEdges"/><text class="w" x="1195.6" y="235">106.000</text>
<rect x="1193" y="329" width="39" height="11" fill="#3f5fe6" shape-rendering="crispEdges"/><text class="w" x="1195.6" y="338">101.500</text>
<rect x="1193" y="410" width="34" height="11" fill="#3f5fe6" shape-rendering="crispEdges"/><text class="w" x="1195.6" y="419">98.000</text>
<text x="1194" y="450">2.7483</text><text x="1194" y="501">0.00</text><text x="1194" y="551">-2.7544</text>
<text x="1194.5" y="567">100</text><text x="1194" y="597">70</text><text x="1193" y="643">30</text><text x="1194" y="672">0</text>
<text x="1.6" y="688" textLength="52" lengthAdjust="spacingAndGlyphs">30 Mar 2022</text>
<text x="65.6" y="688" textLength="55" lengthAdjust="spacingAndGlyphs">31 Mar 16:00</text>
<text x="129.6" y="688" textLength="49" lengthAdjust="spacingAndGlyphs">4 Apr 00:00</text>
<text x="193.6" y="688" textLength="49" lengthAdjust="spacingAndGlyphs">5 Apr 08:00</text>
<text x="257.6" y="688" textLength="49" lengthAdjust="spacingAndGlyphs">6 Apr 16:00</text>
<text x="321.6" y="688" textLength="49" lengthAdjust="spacingAndGlyphs">8 Apr 00:00</text>
<text x="385.6" y="688" textLength="54" lengthAdjust="spacingAndGlyphs">11 Apr 08:00</text>
<text x="449.6" y="688" textLength="54" lengthAdjust="spacingAndGlyphs">12 Apr 16:00</text>
<text x="513.6" y="688" textLength="54" lengthAdjust="spacingAndGlyphs">14 Apr 00:00</text>
<text x="577.6" y="688" textLength="54" lengthAdjust="spacingAndGlyphs">18 Apr 08:00</text>
<text x="641.6" y="688" textLength="54" lengthAdjust="spacingAndGlyphs">19 Apr 16:00</text>
<text x="705.6" y="688" textLength="54" lengthAdjust="spacingAndGlyphs">21 Apr 00:00</text>
<text x="769.6" y="688" textLength="54" lengthAdjust="spacingAndGlyphs">22 Apr 08:00</text>
<text x="833.6" y="688" textLength="54" lengthAdjust="spacingAndGlyphs">25 Apr 16:00</text>
<text x="897.6" y="688" textLength="54" lengthAdjust="spacingAndGlyphs">27 Apr 04:00</text>
<text x="961.6" y="688" textLength="54" lengthAdjust="spacingAndGlyphs">28 Apr 12:00</text>
<text x="1025.6" y="688" textLength="54" lengthAdjust="spacingAndGlyphs">29 Apr 20:00</text>
<text x="1089.6" y="688" textLength="52" lengthAdjust="spacingAndGlyphs">3 May 04:00</text>
<text x="1153.6" y="688" textLength="52" lengthAdjust="spacingAndGlyphs">4 May 12:00</text>
<polygon points="6,15 13,15 9.5,19" fill="#000"/>
<text x="17.8" y="20" textLength="43.5" lengthAdjust="spacingAndGlyphs">UKOil-,H4</text>
<text x="67.5" y="20" textLength="139.5" lengthAdjust="spacing">110.339 110.439 109.870 109.923</text>
<text x="6.6" y="451.5" textLength="128" lengthAdjust="spacingAndGlyphs">MACD(12,26,9) 0.8269 0.3631</text>
<text x="6.6" y="568.5" textLength="68" lengthAdjust="spacingAndGlyphs">RSI(14) 61.5488</text>
</g>
<g class="cj">
<path d="M544.0,356.9Q538,361.5 530.2,364.0"/>
<path d="M543.4,360.0L552.9,360.0Q548.4,370.2 532.4,371.6"/>
<path d="M537.9,365.2L541.9,368.9"/>
<path d="M549.9,370.4Q543,375.5 533.0,377.5"/>
<path d="M545.3,374.3L557.5,374.1Q553,384.5 529.9,386.7"/>
<path d="M541.0,379.0L545.0,383.0"/>
<path d="M577.2,356.6L578.7,360.3"/>
<path class="m" d="M564.9,366.7L564.9,360.3L592.2,360.3L592.2,366.7"/>
<path d="M575.0,365.5Q571,368.5 565.5,371.3"/>
<path d="M581.5,365.5L591.0,371.6"/>
<path d="M566.7,375.3L590.4,375.3"/>
<path d="M578.4,375.3L578.4,386.1"/>
<path d="M563.7,386.1L593.4,386.1"/>
<path d="M597.3,362.1L610.5,362.1"/>
<path d="M603.4,356.9L598.8,372.3L610.5,372.3"/>
<path d="M605.6,366.7L605.6,387.9"/>
<path d="M597.6,380.9L611.4,378.4"/>
<path d="M612.3,362.1L628.9,362.1"/>
<path d="M611.4,368.6L629.8,368.6"/>
<path d="M619.7,356.9L615.4,375.3L627.7,375.3L621.2,382.7"/>
<path d="M614.8,380.9L626.1,387.3"/>
<path d="M633.2,363.7L644.9,363.7"/>
<path d="M639.0,356.6L639.0,384.5Q639.0,386.8 636.5,386.8L633.8,386.6"/>
<path d="M633.2,375.9L644.9,371.6"/>
<path d="M662.4,357.5Q655,359.5 647.6,360.3"/>
<path d="M648.2,359.1L648.2,372Q648,381 643.9,387.3"/>
<path d="M648.2,368.6L663.9,368.6"/>
<path d="M657.5,368.6L657.5,388.2"/>
<path d="M682.9,356.6L682.9,367.7"/>
<path d="M682.9,361.1L697.8,361.1"/>
<path class="m" d="M673.6,367.7H694.1V376.6H673.6Z"/>
<path d="M673.0,380.2L668.7,387.6"/>
<path d="M678.5,380.9L680.3,387.9"/>
<path d="M685.9,380.5L688.6,387.6"/>
<path d="M693.5,380.2L698.1,387.6"/>
</g>
<g fill="none" stroke="#ff0000" stroke-width="2.7">
<path d="M702.7,365.8L709.7,361.3" stroke-width="2.5"/><path d="M709.7,360.0L709.7,384.8" stroke-width="3.2"/>
<ellipse cx="725.4" cy="372.4" rx="7.45" ry="11.9"/>
<ellipse cx="746.8" cy="377.0" rx="7.3" ry="7.3"/>
<path d="M753.3,365.9C752.5,362.3 750,360.5 747,360.5C741.8,360.5 739.2,365.8 739.3,377.5"/>
</g>
</svg></body></html>
